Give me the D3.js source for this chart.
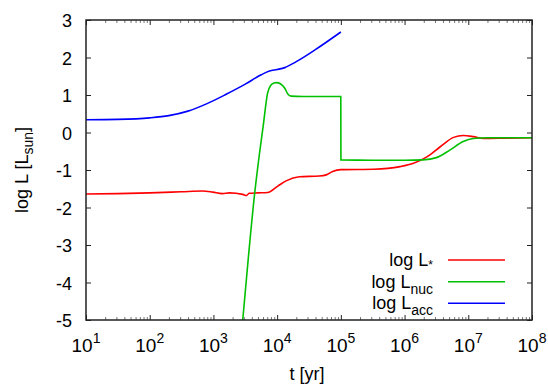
<!DOCTYPE html>
<html>
<head>
<meta charset="utf-8">
<script src="https://cdn.jsdelivr.net/npm/d3@7"></script>
<style>
  body { margin: 0; background: #fff; }
  text { font-family: "Liberation Sans", Arial, sans-serif; fill: #000; }
</style>
</head>
<body>
<div id="chart"></div>
<script>
// log10(t) and log L values
var logTStar = [1.0, 1.5, 2.0, 2.5, 2.83, 2.99, 3.14, 3.25, 3.46, 3.52, 3.56, 3.70, 3.85, 4.01, 4.14, 4.35, 4.66, 4.77, 4.87, 5.0, 5.52, 5.93, 6.14, 6.35, 6.56, 6.77, 6.92, 7.08, 7.24, 7.6, 8.0];
var lStar = [-1.64, -1.63, -1.61, -1.58, -1.56, -1.59, -1.63, -1.61, -1.65, -1.68, -1.62, -1.61, -1.60, -1.43, -1.29, -1.18, -1.16, -1.13, -1.04, -0.99, -0.98, -0.91, -0.82, -0.65, -0.38, -0.13, -0.08, -0.11, -0.16, -0.15, -0.14];

var logTNuc = [3.46, 3.55, 3.65, 3.72, 3.78, 3.85, 3.90, 3.95, 3.99, 4.05, 4.12, 4.17, 4.22, 4.4, 4.7, 4.999, 5.001, 5.5, 6.0, 6.29, 6.50, 6.71, 6.92, 7.08, 7.3, 8.0];
var lNuc = [-5.0, -3.3, -1.58, -0.6, 0.16, 1.05, 1.26, 1.32, 1.33, 1.30, 1.18, 1.02, 0.97, 0.96, 0.96, 0.96, -0.73, -0.74, -0.74, -0.73, -0.67, -0.47, -0.24, -0.16, -0.14, -0.14];

var logTAcc = [1.0, 1.5, 2.0, 2.3, 2.6, 2.9, 3.2, 3.5, 3.75, 3.88, 4.0, 4.12, 4.3, 4.6, 5.0];
var lAcc = [0.34, 0.35, 0.39, 0.45, 0.57, 0.77, 1.02, 1.29, 1.54, 1.64, 1.68, 1.73, 1.89, 2.21, 2.68];

var xMajors = [1e1, 1e2, 1e3, 1e4, 1e5, 1e6, 1e7, 1e8];
var xExponents = ["1", "2", "3", "4", "5", "6", "7", "8"];
var yTicks = [-5, -4, -3, -2, -1, 0, 1, 2, 3];

var seriesNames = [["log L", "*"], ["log L", "nuc"], ["log L", "acc"]];
var seriesColors = ["#ff0000", "#00c000", "#0000ff"];

var svgWidth = 548, svgHeight = 385;
var margin = { top: 20, right: 16, bottom: 65, left: 86 };
var width = svgWidth - margin.left - margin.right;
var height = svgHeight - margin.top - margin.bottom;

var svg = d3.select("#chart").append("svg")
  .attr("width", svgWidth)
  .attr("height", svgHeight);

var chartGroup = svg.append("g")
  .attr("transform", `translate(${margin.left}, ${margin.top})`);

var xScale = d3.scaleLog().domain([1e1, 1e8]).range([0, width]);
var yScale = d3.scaleLinear().domain([-5, 3]).range([height, 0]);

// minor ticks 2..9 in each decade
var xMinors = [];
for (var e = 1; e < 8; e++) {
  for (var m = 2; m <= 9; m++) xMinors.push(m * Math.pow(10, e));
}

function styleAxis(g) {
  g.select(".domain").remove();
  g.selectAll("line").attr("stroke", "#222");
}

// major and minor ticks, pointing inward, on all sides
chartGroup.append("g").attr("transform", `translate(0, ${height})`)
  .call(d3.axisBottom(xScale).tickValues(xMajors).tickSize(-5).tickFormat(""))
  .call(styleAxis);
chartGroup.append("g")
  .call(d3.axisTop(xScale).tickValues(xMajors).tickSize(-5).tickFormat(""))
  .call(styleAxis);
chartGroup.append("g").attr("transform", `translate(0, ${height})`)
  .call(d3.axisBottom(xScale).tickValues(xMinors).tickSize(-3).tickFormat(""))
  .call(styleAxis).selectAll("line").attr("stroke", "#777");
chartGroup.append("g")
  .call(d3.axisTop(xScale).tickValues(xMinors).tickSize(-3).tickFormat(""))
  .call(styleAxis).selectAll("line").attr("stroke", "#777");

chartGroup.append("g")
  .call(d3.axisLeft(yScale).tickValues(yTicks).tickSize(-5).tickPadding(14).tickFormat(d => String(d)))
  .call(styleAxis)
  .selectAll("text")
  .attr("font-size", 18)
  .attr("font-family", "'Liberation Sans', Arial, sans-serif")
  .attr("dy", "0.37em");
chartGroup.append("g").attr("transform", `translate(${width}, 0)`)
  .call(d3.axisRight(yScale).tickValues(yTicks).tickSize(-5).tickFormat(""))
  .call(styleAxis);

// x tick labels 10^n
var xLabels = chartGroup.selectAll(".xlab")
  .data(xMajors)
  .enter()
  .append("text")
  .attr("class", "xlab")
  .attr("x", d => xScale(d))
  .attr("y", height + 32)
  .attr("text-anchor", "middle")
  .attr("font-size", 19);
xLabels.append("tspan").text("10");
xLabels.append("tspan")
  .attr("font-size", 14)
  .attr("dy", -9)
  .text((d, i) => xExponents[i]);

// curves
chartGroup.append("clipPath").attr("id", "plotclip")
  .append("rect").attr("width", width).attr("height", height);

var line = d3.line()
  .x(d => xScale(Math.pow(10, d[0])))
  .y(d => yScale(d[1]))
  .curve(d3.curveMonotoneX);

var seriesData = [
  d3.zip(logTStar, lStar),
  d3.zip(logTNuc, lNuc),
  d3.zip(logTAcc, lAcc)
];

chartGroup.append("g").attr("clip-path", "url(#plotclip)")
  .selectAll("path")
  .data(seriesData)
  .enter()
  .append("path")
  .attr("d", line)
  .attr("fill", "none")
  .attr("stroke", (d, i) => seriesColors[i])
  .attr("stroke-width", 1.6);

// frame
chartGroup.append("rect")
  .attr("width", width)
  .attr("height", height)
  .attr("fill", "none")
  .attr("stroke", "#222")
  .attr("stroke-width", 1.5);

// legend
var legendRowY = [240, 261.7, 283.3];
var legend = chartGroup.selectAll(".legend")
  .data(seriesNames)
  .enter()
  .append("g")
  .attr("class", "legend")
  .attr("transform", (d, i) => `translate(0, ${legendRowY[i]})`);

legend.append("line")
  .attr("x1", 362).attr("x2", 419)
  .attr("stroke", (d, i) => seriesColors[i])
  .attr("stroke-width", 1.6);

var legendText = legend.append("text")
  .attr("x", 347)
  .attr("y", 6)
  .attr("text-anchor", "end")
  .attr("font-size", 18);
legendText.append("tspan").text(d => d[0]);
legendText.append("tspan")
  .attr("font-size", d => d[1] === "*" ? 12 : 14)
  .attr("dy", d => d[1] === "*" ? 3 : 6)
  .text(d => d[1]);

// axis titles
chartGroup.append("text")
  .attr("x", 221)
  .attr("y", height + 60)
  .attr("text-anchor", "middle")
  .attr("font-size", 18)
  .text("t [yr]");

var yTitle = chartGroup.append("text")
  .attr("transform", `translate(${28 - margin.left}, ${height / 2}) rotate(-90)`)
  .attr("text-anchor", "middle")
  .attr("font-size", 18);
yTitle.append("tspan").text("log L [L");
yTitle.append("tspan").attr("font-size", 14).attr("dy", 5).text("sun");
yTitle.append("tspan").attr("dy", -5).text("]");
</script>
</body>
</html>
